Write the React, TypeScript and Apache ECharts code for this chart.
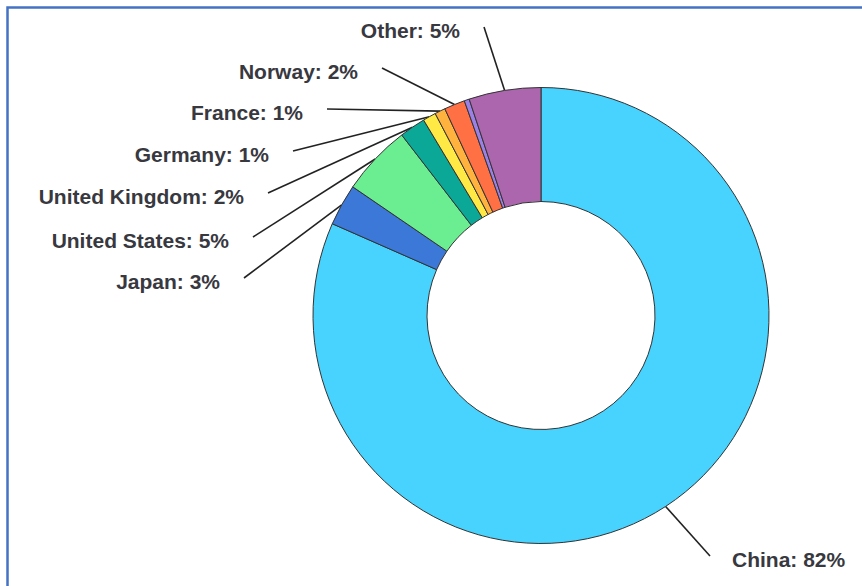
import React, { useEffect, useRef } from "react";
import * as echarts from "echarts";

// ---- data ----
const categories = [
  "China",
  "Japan",
  "United States",
  "United Kingdom",
  "Germany",
  "France",
  "Norway",
  "Misc",
  "Other",
];
const shares = [81.6, 2.95, 5.0, 1.85, 0.93, 0.75, 1.47, 0.36, 5.1];
const shareLabels = ["82", "3", "5", "2", "1", "1", "2", "", "5"];
const showLabel = [true, true, true, true, true, true, true, false, true];

// ---- styling / layout ----
const colors = [
  "#48D3FF",
  "#3B78D8",
  "#6BEE92",
  "#0BA898",
  "#FFEA45",
  "#FFB23E",
  "#FF7045",
  "#9B80E6",
  "#AC66AE",
];
// end point of each leader line (pixel layout), null = no label
const lineEnds: (number[] | null)[] = [
  [710, 556],
  [244, 278],
  [253, 237],
  [268, 193],
  [293, 151],
  [327, 109],
  [382, 68],
  null,
  [484, 27],
];
const CX = 541;
const CY = 315.5;
const R_IN = 114;
const R_OUT = 228;

export default function App() {
  const ref = useRef<HTMLDivElement>(null);

  useEffect(() => {
    if (!ref.current) return;
    const chart = echarts.init(ref.current, undefined, { renderer: "svg" });
    const total = shares.reduce((a, b) => a + b, 0);
    const cum: number[] = [];
    let acc = 0;
    shares.forEach((v) => {
      cum.push(acc + v / 2);
      acc += v;
    });

    const data = categories.map((name, i) => ({
      name,
      value: shares[i],
      itemStyle: { color: colors[i] },
      label: { show: showLabel[i] },
      labelLine: { show: showLabel[i] },
    }));

    chart.setOption({
      animation: false,
      backgroundColor: "#ffffff",
      graphic: [
        {
          type: "rect",
          shape: { x: 7.5, y: 7.5, width: 900, height: 700 },
          style: { fill: "none", stroke: "#4472C4", lineWidth: 2.5 },
          silent: true,
          z: 100,
        },
      ],
      series: [
        {
          type: "pie",
          center: [CX, CY],
          radius: [R_IN, R_OUT],
          startAngle: 90,
          clockwise: true,
          avoidLabelOverlap: false,
          itemStyle: { borderColor: "#333333", borderWidth: 1 },
          emphasis: { disabled: true },
          label: {
            show: true,
            position: "outer",
            alignTo: "none",
            fontFamily: "Liberation Sans, Arial, sans-serif",
            fontWeight: "bold",
            fontSize: 21,
            color: "#38383f",
            formatter: (p: any) =>
              `${p.name}: ${shareLabels[p.dataIndex]}%`,
          },
          labelLine: {
            show: true,
            length: 20,
            length2: 0,
            lineStyle: { color: "#222222", width: 1.6 },
          },
          labelLayout: (params: any) => {
            const i = params.dataIndex;
            const end = lineEnds[i];
            if (!end) return {};
            let start: number[];
            if (params.labelLinePoints && params.labelLinePoints[0]) {
              start = params.labelLinePoints[0];
            } else {
              const ang = (cum[i] / total) * Math.PI * 2;
              start = [CX + R_OUT * Math.sin(ang), CY - R_OUT * Math.cos(ang)];
            }
            const right = end[0] > CX;
            return {
              x: right ? end[0] + 22 : end[0] - 24,
              y: end[1] + 3,
              align: right ? "left" : "right",
              verticalAlign: "middle",
              labelLinePoints: [start, end],
            };
          },
          data,
        },
      ],
    });
    return () => chart.dispose();
  }, []);

  return (
    <div
      ref={ref}
      style={{
        position: "absolute",
        left: 0,
        top: 0,
        width: 862,
        height: 586,
      }}
    />
  );
}
